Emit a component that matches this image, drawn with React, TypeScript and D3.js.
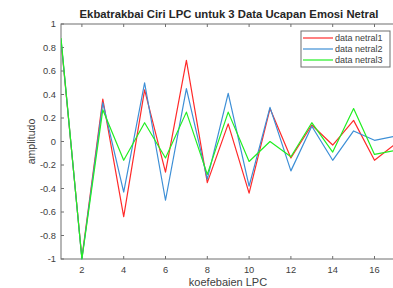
import { useEffect, useRef } from "react";
import * as d3 from "d3";

const coefs = [1, 2, 3, 4, 5, 6, 7, 8, 9, 10, 11, 12, 13, 14, 15, 16, 17];
const netral1 = [0.86, -0.99, 0.36, -0.64, 0.44, -0.26, 0.69, -0.35, 0.15, -0.44, 0.28, -0.14, 0.14, -0.03, 0.18, -0.16, -0.02];
const netral2 = [0.87, -1.0, 0.33, -0.43, 0.5, -0.5, 0.45, -0.32, 0.41, -0.38, 0.29, -0.25, 0.13, -0.16, 0.09, 0.01, 0.045];
const netral3 = [0.88, -1.0, 0.27, -0.16, 0.16, -0.14, 0.25, -0.28, 0.25, -0.17, 0.0, -0.13, 0.16, -0.09, 0.28, -0.11, -0.075];
const seriesNames = ["data netral1", "data netral2", "data netral3"];
const seriesColors = ["#ff2a2a", "#3d8fd6", "#22ee22"];
const xTicks = [2, 4, 6, 8, 10, 12, 14, 16];
const yTicks = [-1, -0.8, -0.6, -0.4, -0.2, 0, 0.2, 0.4, 0.6, 0.8, 1];

export default function App() {
    const svgRef = useRef<SVGSVGElement>(null);

    useEffect(() => {
        if (!svgRef.current) return;
        const svg = d3.select(svgRef.current);
        svg.selectAll("*").remove();

        const left = 61, top = 24, bottom = 259;
        const right = 61 + 16 * 20.9;
        const font = "Helvetica, Arial, 'Liberation Sans', sans-serif";
        const axisColor = "#6e6e6e";
        const textColor = "#404040";

        const x = d3.scaleLinear().domain([1, 17]).range([left, right]);
        const y = d3.scaleLinear().domain([-1, 1]).range([bottom, top]);

        svg.append("rect").attr("width", 393).attr("height", 288).attr("fill", "#fff");

        // box
        svg.append("rect")
            .attr("x", left).attr("y", top)
            .attr("width", right - left).attr("height", bottom - top)
            .attr("fill", "none").attr("stroke", axisColor).attr("stroke-width", 1);

        // ticks
        xTicks.forEach(t => {
            svg.append("line").attr("x1", x(t)).attr("x2", x(t)).attr("y1", bottom).attr("y2", bottom - 3)
                .attr("stroke", axisColor);
            svg.append("line").attr("x1", x(t)).attr("x2", x(t)).attr("y1", top).attr("y2", top + 3)
                .attr("stroke", axisColor);
            svg.append("text").attr("x", x(t)).attr("y", 273)
                .attr("text-anchor", "middle").attr("font-family", font).attr("font-size", 9.3)
                .attr("fill", textColor).text(t);
        });
        yTicks.forEach(t => {
            svg.append("line").attr("x1", left).attr("x2", left + 3).attr("y1", y(t)).attr("y2", y(t))
                .attr("stroke", axisColor);
            svg.append("text").attr("x", left - 5).attr("y", y(t)).attr("dy", "0.35em")
                .attr("text-anchor", "end").attr("font-family", font).attr("font-size", 9.3)
                .attr("fill", textColor).text(String(t));
        });

        // lines
        const clipId = "plotclip";
        svg.append("clipPath").attr("id", clipId).append("rect")
            .attr("x", left).attr("y", top - 1).attr("width", right - left).attr("height", bottom - top + 2);

        const line = d3.line<number>()
            .x((_, i) => x(coefs[i]))
            .y(d => y(d));

        [netral1, netral2, netral3].forEach((vals, i) => {
            svg.append("path")
                .datum(vals)
                .attr("clip-path", `url(#${clipId})`)
                .attr("fill", "none")
                .attr("stroke", seriesColors[i])
                .attr("stroke-width", 1.2)
                .attr("stroke-linejoin", "round")
                .attr("d", line);
        });

        // legend
        const lg = svg.append("g");
        lg.append("rect").attr("x", 301).attr("y", 31).attr("width", 89).attr("height", 36)
            .attr("fill", "#fff").attr("stroke", axisColor).attr("stroke-width", 1);
        seriesNames.forEach((name, i) => {
            const ly = 38 + i * 11;
            lg.append("line").attr("x1", 303).attr("x2", 333).attr("y1", ly).attr("y2", ly)
                .attr("stroke", seriesColors[i]).attr("stroke-width", 1.2);
            lg.append("text").attr("x", 335).attr("y", ly).attr("dy", "0.35em")
                .attr("font-family", font).attr("font-size", 9).attr("fill", textColor).text(name);
        });

        // title and labels
        svg.append("text").attr("x", 229).attr("y", 18).attr("text-anchor", "middle")
            .attr("font-family", font).attr("font-size", 11.3).attr("font-weight", "bold")
            .attr("fill", "#262626").text("Ekbatrakbai Ciri LPC untuk 3 Data Ucapan Emosi Netral");
        svg.append("text").attr("x", 228).attr("y", 286).attr("text-anchor", "middle")
            .attr("font-family", font).attr("font-size", 11)
            .attr("fill", textColor).text("koefebaien LPC");
        svg.append("text").attr("transform", `translate(35,141.5) rotate(-90)`).attr("text-anchor", "middle")
            .attr("font-family", font).attr("font-size", 10.5)
            .attr("fill", textColor).text("amplitudo");
    }, []);

    return (
        <div style={{ position: "fixed", left: 0, top: 0, width: 393, height: 288, overflow: "hidden" }}>
            <svg ref={svgRef} width={393} height={288} style={{ display: "block" }}></svg>
        </div>
    );
}
